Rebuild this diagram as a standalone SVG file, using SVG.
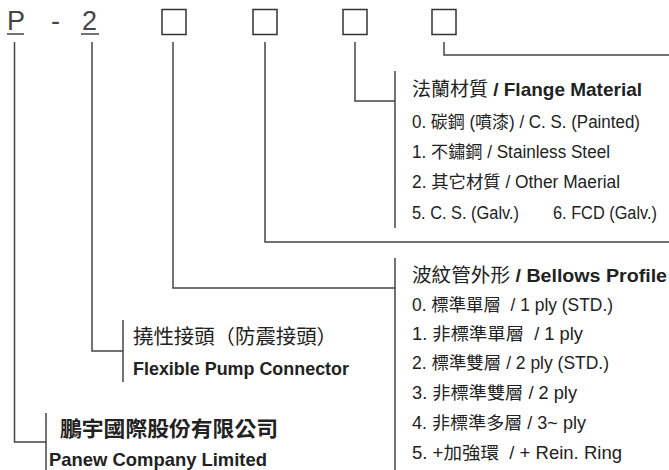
<svg xmlns="http://www.w3.org/2000/svg" width="669" height="470" viewBox="0 0 669 470">
<style>
text { font-family: "Liberation Sans", "Noto Sans CJK TC", sans-serif; fill: #222; white-space: pre; }
.code { font-size: 27px; fill: #444; }
.t { font-size: 19px; }
.i { font-size: 17.5px; }
.b { font-weight: bold; }
.box { fill: none; stroke: #333; stroke-width: 1.5; }
.ln { fill: none; stroke: #444; stroke-width: 1.5; }
</style>
<rect width="669" height="470" fill="#fff"/>
<g id="code">
  <text class="code" x="7" y="30">P</text>
  <line class="ln" x1="7" y1="34" x2="24" y2="34"/>
  <text class="code" x="51" y="30">-</text>
  <text class="code" x="82" y="30">2</text>
  <line class="ln" x1="81" y1="34" x2="99" y2="34"/>
  <rect class="box" x="162" y="9.5" width="24" height="25"/>
  <rect class="box" x="253" y="9.5" width="24" height="25"/>
  <rect class="box" x="343" y="9.5" width="24" height="25"/>
  <rect class="box" x="432" y="9.5" width="24" height="25"/>
</g>
<g id="connectors">
  <polyline class="ln" points="14.5,42 14.5,442 46,442"/>
  <line class="ln" x1="46" y1="413" x2="46" y2="470"/>
  <polyline class="ln" points="92,42 92,351 123,351"/>
  <line class="ln" x1="123" y1="320" x2="123" y2="382"/>
  <polyline class="ln" points="173,42 173,288 395,288"/>
  <line class="ln" x1="395" y1="258" x2="395" y2="470"/>
  <polyline class="ln" points="265,42 265,242 669,242"/>
  <polyline class="ln" points="355,42 355,101 395,101"/>
  <line class="ln" x1="395" y1="71" x2="395" y2="228"/>
  <polyline class="ln" points="444,42 444,55 669,55"/>
</g>
<g id="flange">
  <text class="t" x="412" y="96" textLength="230" lengthAdjust="spacingAndGlyphs">法蘭材質 <tspan class="b">/ Flange Material</tspan></text>
  <text class="i" x="412" y="128" textLength="228" lengthAdjust="spacingAndGlyphs">0. 碳鋼 (噴漆) / C. S. (Painted)</text>
  <text class="i" x="412" y="158" textLength="198" lengthAdjust="spacingAndGlyphs">1. 不鏽鋼 / Stainless Steel</text>
  <text class="i" x="412" y="188" textLength="208" lengthAdjust="spacingAndGlyphs">2. 其它材質 / Other Maerial</text>
  <text class="i" x="412" y="219" textLength="107" lengthAdjust="spacingAndGlyphs">5. C. S. (Galv.)</text>
  <text class="i" x="553" y="219" textLength="104" lengthAdjust="spacingAndGlyphs">6. FCD (Galv.)</text>
</g>
<g id="bellows">
  <text class="t" x="412" y="282" textLength="255" lengthAdjust="spacingAndGlyphs">波紋管外形 <tspan class="b">/ Bellows Profile</tspan></text>
  <text class="i" x="412" y="311" textLength="201" lengthAdjust="spacingAndGlyphs">0. 標準單層  / 1 ply (STD.)</text>
  <text class="i" x="412" y="340" textLength="171" lengthAdjust="spacingAndGlyphs">1. 非標準單層  / 1 ply</text>
  <text class="i" x="412" y="369" textLength="197" lengthAdjust="spacingAndGlyphs">2. 標準雙層 / 2 ply (STD.)</text>
  <text class="i" x="412" y="399" textLength="165" lengthAdjust="spacingAndGlyphs">3. 非標準雙層 / 2 ply</text>
  <text class="i" x="412" y="429" textLength="174" lengthAdjust="spacingAndGlyphs">4. 非標準多層 / 3~ ply</text>
  <text class="i" x="412" y="459" textLength="210" lengthAdjust="spacingAndGlyphs">5. +加強環  / + Rein. Ring</text>
</g>
<g id="connector-type">
  <text class="t" style="font-size:20px" x="133" y="344" textLength="204" lengthAdjust="spacingAndGlyphs">撓性接頭（防震接頭）</text>
  <text class="t b" x="133" y="375" textLength="216" lengthAdjust="spacingAndGlyphs">Flexible Pump Connector</text>
</g>
<g id="company">
  <text class="b" style="font-size:21px" x="60" y="436" textLength="218" lengthAdjust="spacingAndGlyphs">鵬宇國際股份有限公司</text>
  <text class="t b" x="49" y="466" textLength="218" lengthAdjust="spacingAndGlyphs">Panew Company Limited</text>
</g>
</svg>
